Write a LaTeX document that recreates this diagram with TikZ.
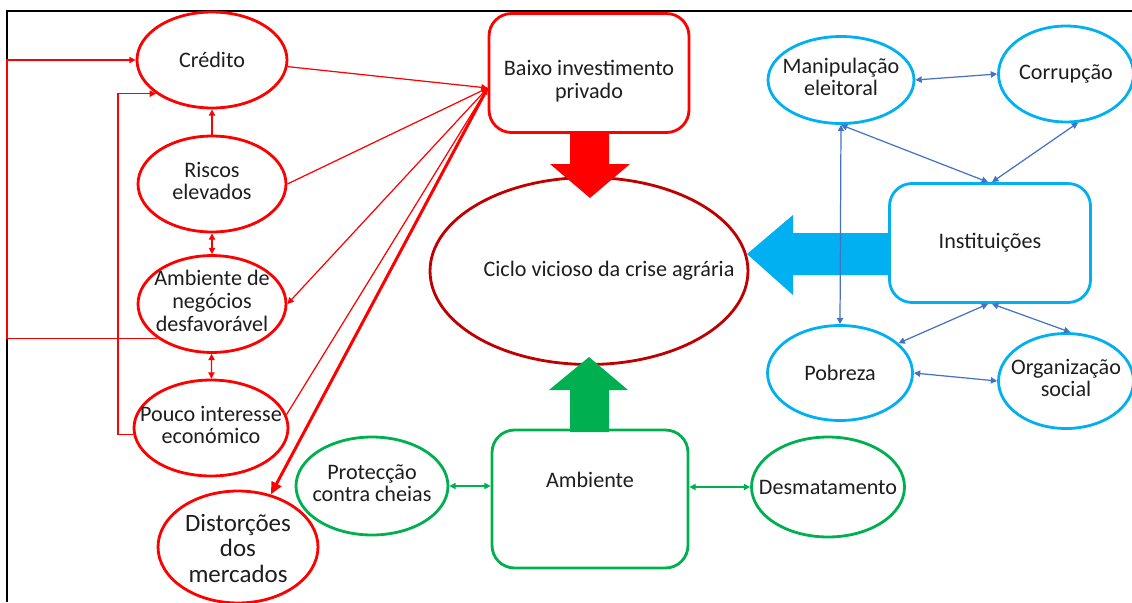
\documentclass[tikz,border=0pt]{standalone}
\usepackage{fontspec}
\setmainfont{Carlito}
\usetikzlibrary{arrows.meta,shapes.geometric}
\definecolor{vermelho}{RGB}{255,0,0}
\definecolor{bordo}{RGB}{192,0,0}
\definecolor{verde}{RGB}{0,176,80}
\definecolor{ciano}{RGB}{0,176,240}
\definecolor{azul}{RGB}{68,114,196}
\definecolor{texto}{RGB}{30,30,30}
\newcommand{\nodetxt}[1]{\makebox[0pt]{\begin{tabular}{@{}c@{}}#1\end{tabular}}}
\tikzset{
  oval/.style={ellipse, line width=1.6pt, fill=white, inner sep=0pt, text=texto,
               font=\fontsize{12.6}{13}\selectfont},
  redoval/.style={oval, draw=vermelho},
  blueoval/.style={oval, draw=ciano},
  greenoval/.style={oval, draw=verde},
  bigbox/.style={rectangle, rounded corners=0.45cm, line width=1.6pt, fill=white,
                 inner sep=0pt, text=texto, font=\fontsize{12.6}{13}\selectfont},
  redlink/.style={draw=vermelho, line width=0.7pt},
  bluelink/.style={draw=azul, line width=0.7pt},
  greenlink/.style={draw=verde, line width=0.8pt}
}
\begin{document}
\begin{tikzpicture}[x=0.02cm, y=-0.02cm, >={Triangle[length=3.6pt,width=3.6pt]}]
            \useasboundingbox (0,0) rectangle (1132,602);
            % moldura
            \draw[line width=1.2pt] (1132,11) -- (7,11) -- (7,602);

            % factores economicos
            \node[redoval, minimum width=3cm,    minimum height=1.92cm] (credito)  at (212, 60) {\makebox[0pt]{Crédito}};
            \node[redoval, minimum width=2.96cm, minimum height=1.92cm] (riscos)   at (212,184) {\nodetxt{Riscos\\elevados}};
            \node[redoval, minimum width=2.96cm, minimum height=1.92cm] (ambneg)   at (212,304) {\nodetxt{Ambiente de\\negócios\\desfavorável}};
            \node[redoval, minimum width=3.08cm, minimum height=1.92cm] (pouco)    at (211,428) {\nodetxt{Pouco interesse\\económico}};
            \node[redoval, minimum width=3.2cm,  minimum height=2.24cm,
                  font=\fontsize{14.2}{14.6}\selectfont]                 (distorcoes) at (238,547)
                 {\smash{\raisebox{-0.22cm}{\nodetxt{Distorções\\dos\\mercados}}}};
            \node[bigbox, draw=vermelho, minimum width=4cm, minimum height=2.38cm] (baixo) at (589, 73)
                 {\smash{\raisebox{-0.3cm}{\nodetxt{Baixo investimento\\privado}}}};

            % centro
            \node[oval, draw=bordo, minimum width=6.36cm, minimum height=3.74cm] (ciclo) at (589,271)
                 {\makebox[0pt]{\hspace{0.8cm}Ciclo vicioso da crise agrária}};

            % instituicoes
            \node[blueoval, minimum width=2.92cm, minimum height=1.74cm] (manip)   at (841, 80) {\nodetxt{Manipulação\\eleitoral}};
            \node[blueoval, minimum width=2.7cm,  minimum height=1.92cm] (corrup)  at (1066,74) {\makebox[0pt]{Corrupção}};
            \node[blueoval, minimum width=2.9cm,  minimum height=1.9cm]  (pobreza) at (840,373) {\makebox[0pt]{Pobreza}};
            \node[blueoval, minimum width=2.7cm,  minimum height=1.9cm]  (organiz) at (1066,381) {\nodetxt{Organização\\social}};
            \node[bigbox, draw=ciano, minimum width=4.02cm, minimum height=2.38cm] (instit) at (990,243) {Instituições};

            % ambiente
            \node[greenoval, minimum width=3.04cm, minimum height=1.96cm] (proteccao) at (372,486) {\nodetxt{Protecção\\contra cheias}};
            \node[greenoval, minimum width=3.06cm, minimum height=2cm]    (desmat)    at (828,487) {\makebox[0pt]{Desmatamento}};
            \node[bigbox, draw=verde, minimum width=3.92cm, minimum height=2.76cm] (ambiente) at (590,499)
                 {\smash{\raisebox{0.23cm}{Ambiente}}};

            % setas grandes
            \fill[vermelho] (570,131) -- (609,131) -- (609,164) -- (630,164) -- (590,198) -- (550,164) -- (570,164) -- cycle;
            \fill[verde]    (570,432) -- (609,432) -- (609,390) -- (628,390) -- (589,357) -- (549,390) -- (570,390) -- cycle;
            \fill[ciano]    (889,233) -- (793,233) -- (793,215) -- (747,254) -- (793,295) -- (793,275) -- (889,275) -- cycle;

            % ligacoes vermelhas
            \coordinate (hub) at ([yshift=-0.3cm]baixo.west);
            \draw[redlink,->] (credito.-5) -- (hub);
            \draw[redlink,->] (riscos.east) -- (hub);
            \draw[redlink,->] (hub) -- (ambneg.east);
            \draw[redlink,->] (pouco.10) -- (hub);
            \draw[redlink,line width=1.7pt,-{Triangle[length=7pt,width=6pt]}] (hub) -- (distorcoes.58);
            \draw[redlink,->] (riscos) -- (credito);
            \draw[redlink,<->] (riscos) -- (ambneg);
            \draw[redlink,<->] (ambneg) -- (pouco);
            \coordinate (loopA) at (7,200);
            \coordinate (loopB) at (118,300);
            \draw[redlink,->] (ambneg.212) -| (loopA) |- (credito.west);
            \draw[redlink,->] (pouco.185) -| (loopB) |- (credito.211);

            % ligacoes azuis
            \draw[bluelink,<->] (manip.east) -- (corrup.west);
            \draw[bluelink,<->] (manip.south) -- ([xshift=-0.04cm]instit.north);
            \draw[bluelink,<->] (corrup.-76) -- ([xshift=0.04cm]instit.north);
            \draw[bluelink,<->] (manip.south) -- (pobreza.north);
            \draw[bluelink,<->] ([xshift=-0.04cm]instit.south) -- (pobreza.27);
            \draw[bluelink,<->] ([xshift=0.04cm]instit.south) -- (organiz.85);
            \draw[bluelink,<->] (pobreza.east) -- (organiz.west);

            % ligacoes verdes
            \draw[greenlink,<->] (proteccao.east) -- (proteccao.east -| ambiente.west);
            \draw[greenlink,<->] (desmat.west -| ambiente.east) -- (desmat.west);
\end{tikzpicture}
\end{document}
